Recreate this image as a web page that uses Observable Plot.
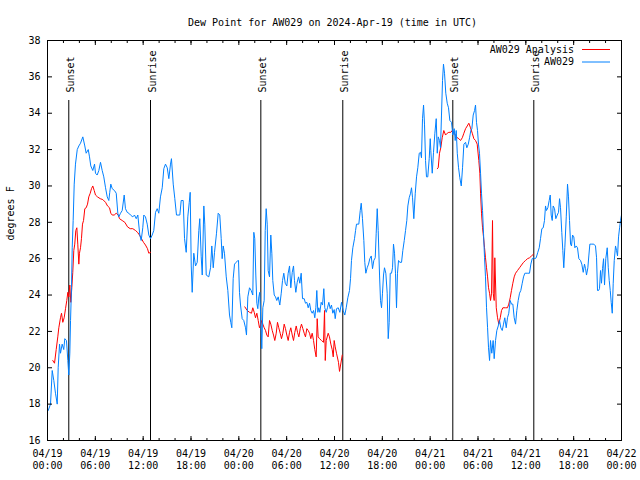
<!DOCTYPE html>
<html>
<head>
<meta charset="utf-8">
<script src="https://cdn.jsdelivr.net/npm/d3@7"></script>
<script src="https://cdn.jsdelivr.net/npm/@observablehq/plot@0.6"></script>
<style>
  html, body { margin: 0; padding: 0; background: #fff; }
  #chart svg { display: block; }
</style>
</head>
<body>
<div id="chart"></div>
<script>
// ---- Data (hours since 2024-04-19 00:00 UTC, dew point in °F) ----
const titleText = "Dew Point for AW029 on 2024-Apr-19 (time in UTC)";
const yLabelText = "degrees F";
const seriesNames = ["AW029 Analysis", "AW029"];
const seriesColors = ["#ff0000", "#0080ff"];

const blueHours = [0.09,0.38,0.59,0.79,1.00,1.22,1.34,1.51,1.63,1.84,2.04,2.17,2.38,2.55,2.67,2.80,2.89,3.01,3.10,3.22,3.35,3.51,3.73,3.93,4.14,4.43,4.68,4.85,5.11,5.27,5.43,5.68,5.90,6.02,6.23,6.44,6.65,6.86,7.06,7.28,7.49,7.69,7.81,7.94,8.12,8.40,8.62,8.82,8.94,9.16,9.37,9.62,9.78,10.00,10.20,10.41,10.70,10.91,11.13,11.33,11.58,11.75,11.95,12.08,12.29,12.51,12.71,12.92,13.13,13.33,13.55,13.76,13.96,14.17,14.39,14.59,14.80,15.02,15.22,15.43,15.55,15.77,15.97,16.18,16.60,16.77,17.02,17.19,17.40,17.60,17.78,17.90,18.03,18.15,18.35,18.57,18.78,18.98,19.10,19.28,19.41,19.61,19.73,19.91,20.23,20.45,20.61,20.79,20.95,21.20,21.41,21.61,21.79,21.91,22.04,22.20,22.42,22.62,22.83,22.99,23.12,23.29,23.46,23.67,23.87,23.96,24.08,24.21,24.42,24.62,24.84,24.96,25.13,25.34,25.55,25.75,25.88,26.00,26.13,26.26,26.38,26.51,26.63,26.76,26.88,27.01,27.18,27.31,27.43,27.56,27.68,27.85,28.01,28.14,28.26,28.44,28.60,28.76,28.94,29.14,29.32,29.48,29.64,29.82,30.02,30.19,30.36,30.52,30.70,30.86,30.98,31.15,31.32,31.49,31.65,31.82,31.99,32.20,32.36,32.53,32.70,32.87,33.03,33.20,33.37,33.53,33.66,33.78,33.91,34.03,34.16,34.33,34.50,34.66,34.78,34.96,35.12,35.29,35.46,35.62,35.79,35.96,36.09,36.25,36.47,36.67,36.88,37.09,37.29,37.47,37.67,37.88,38.01,38.13,38.30,38.51,38.64,38.76,39.05,39.23,39.35,39.51,39.68,39.80,39.93,40.10,40.27,40.43,40.61,40.77,40.93,41.11,41.23,41.36,41.48,41.65,41.77,41.90,42.02,42.15,42.27,42.44,42.61,42.74,42.86,42.99,43.15,43.28,43.40,43.53,43.65,43.78,43.90,44.03,44.19,44.41,44.57,44.75,44.91,45.07,45.20,45.37,45.54,45.66,45.79,45.95,46.13,46.29,46.45,46.63,46.79,46.91,47.04,47.17,47.29,47.42,47.54,47.70,47.88,48.01,48.08,48.26,48.42,48.59,48.76,48.89,49.01,49.17,49.30,49.42,49.55,49.67,49.80,49.96,50.14,50.30,50.47,50.68,50.84,51.02,51.14,51.27,51.40,51.56,51.72,51.90,52.06,52.23,52.44,52.60,52.78,52.94,53.10,53.23,53.40,53.57,53.69,53.81,53.94,54.06,54.19,54.32,54.44,54.57,54.69,54.82,54.94,55.07,55.20,55.32,55.45,55.57,55.73,55.90,56.03,56.20,56.36,56.54,56.70,56.86,57.04,57.20,57.36,57.54,57.70,57.86,58.04,58.20,58.37,58.54,58.71,58.87,59.04,59.21,59.37,59.55,59.71,59.88,60.00,60.25,60.46,60.63,60.80,60.93,61.13,61.30,61.50,61.68,61.84,62.01,62.18,62.34,62.47,62.59,62.76,62.93,63.06,63.18,63.31,63.43,63.60,63.76,63.94,64.10,64.23,64.35,64.51,64.64,64.76,64.89,65.07,65.23,65.35,65.48,65.61,65.73,65.86,66.02,66.15,66.32,66.48,66.65,66.86,67.02,67.20,67.36,67.49,67.61,67.78,67.90,68.03,68.28,68.53,68.74,68.87,68.99,69.12,69.24,69.37,69.49,69.62,69.75,69.87,70.03,70.21,70.34,70.46,70.59,70.71,70.84,70.96,71.09,71.25,71.38,71.50,71.63,71.76,71.88,72.00];
const blueVals = [17.65,18.0,19.85,19.3,18.6,18.0,20.0,21.3,20.8,21.3,21.0,21.6,21.5,20.4,19.6,20.8,22.6,24.4,26.6,28.1,30.1,31.2,32.0,32.2,32.35,32.7,32.2,31.8,32.0,31.6,31.1,30.85,31.2,30.7,30.6,30.85,31.3,30.85,30.5,29.9,29.4,29.2,29.65,30.1,29.85,29.75,29.6,28.5,28.3,28.5,28.65,29.5,28.75,28.55,28.5,28.4,28.3,28.4,28.2,28.4,27.3,27.0,27.7,28.4,28.3,27.9,27.3,27.1,27.3,27.55,28.55,28.75,28.5,29.4,29.9,30.95,31.2,31.0,30.4,31.2,31.5,30.1,29.3,28.4,28.4,29.2,29.2,27.1,26.35,28.3,29.1,29.65,25.6,24.15,26.3,25.6,25.8,27.55,28.2,26.1,25.1,28.9,27.9,25.1,25.0,25.5,26.7,25.5,26.35,27.4,28.5,28.4,27.1,26.0,26.7,26.3,25.0,24.25,22.9,22.5,22.2,24.9,25.7,25.8,25.9,25.9,24.15,23.45,22.7,22.6,22.2,21.8,23.9,24.4,24.25,24.0,27.45,27.1,25.1,23.55,23.25,23.9,24.15,22.6,21.05,23.3,23.7,27.55,28.75,27.9,25.35,25.0,27.3,26.3,24.8,24.0,23.9,23.7,23.9,23.45,24.1,24.8,25.2,24.65,24.5,25.2,25.6,24.4,25.25,25.6,24.8,24.15,24.7,25.0,24.65,25.2,23.8,23.8,23.55,23.6,23.3,23.55,23.15,23.0,23.15,22.75,23.3,24.25,23.05,23.3,23.05,23.6,23.45,24.35,23.3,23.05,23.3,23.6,23.25,23.45,23.0,23.2,22.7,23.25,23.3,23.05,23.6,23.15,22.9,23.3,23.85,24.25,24.9,25.9,26.6,27.1,27.55,27.9,27.9,28.65,29.05,28.2,27.0,25.8,25.2,25.5,25.7,26.0,26.15,25.45,25.9,26.05,27.4,28.75,27.55,25.1,23.7,23.3,24.1,25.1,25.5,25.2,24.1,21.6,22.5,25.2,25.2,25.5,26.8,26.3,25.2,23.3,25.2,25.9,25.8,25.8,26.45,27.0,27.55,28.1,28.9,29.35,29.6,29.9,29.35,28.2,29.6,30.5,31.0,31.8,31.85,31.55,33.7,34.45,33.4,31.4,30.5,30.5,31.5,32.6,31.95,30.7,31.85,32.9,33.7,31.8,32.7,32.5,32.1,33.9,35.8,36.7,36.2,35.1,34.55,34.3,33.6,33.5,32.8,33.15,32.5,33.05,31.8,31.0,30.45,30.0,31.0,32.3,32.4,32.1,32.3,32.65,33.05,33.15,33.9,34.15,34.45,33.5,33.05,32.3,31.8,30.7,29.6,28.65,27.4,26.05,25.0,23.3,22.2,21.1,20.4,21.5,20.8,21.5,20.5,21.5,22.05,22.3,22.6,22.2,22.05,22.4,22.75,22.2,22.75,23.0,23.7,23.5,23.5,22.75,22.4,23.15,23.7,24.1,24.25,24.65,25.0,25.2,25.2,25.2,25.2,25.7,26.0,26.05,26.0,26.05,26.35,26.6,27.1,27.65,27.7,28.1,28.9,28.65,28.8,29.2,29.5,28.4,28.1,28.9,28.75,28.2,28.4,28.55,29.3,28.8,27.45,26.45,25.5,26.6,28.3,30.1,29.4,28.1,26.8,26.7,27.3,27.2,26.6,26.7,26.6,26.0,25.9,25.7,25.25,25.7,25.45,25.1,25.5,26.15,26.8,26.8,26.8,26.7,26.05,24.25,24.25,24.35,25.35,24.65,25.45,26.0,24.55,26.0,26.6,25.5,24.8,24.25,23.6,23.0,24.65,25.9,26.7,26.45,26.15,27.2,27.7,28.1,28.4];

// null entries mark gaps in the analysis series
const redHours = [0.66,0.88,1.09,1.29,1.42,1.63,1.76,1.92,2.09,2.26,2.42,2.55,2.67,2.80,2.92,3.05,3.17,3.30,3.42,3.55,3.68,3.80,3.93,4.01,4.14,4.26,4.39,4.52,4.68,4.85,5.02,5.18,5.36,5.52,5.68,5.86,6.02,6.27,6.61,6.94,7.28,7.53,7.78,7.94,8.12,8.37,8.62,8.87,9.03,9.37,9.70,10.04,10.37,10.70,11.04,11.29,11.54,11.79,12.04,12.29,12.54,12.71,12.92,
  18.0,
  24.75,25.05,25.34,25.59,25.75,25.93,26.09,26.26,26.43,26.59,26.76,26.88,27.01,27.18,27.35,27.51,27.68,27.85,28.01,28.19,28.35,28.51,28.69,28.85,29.01,29.19,29.35,29.52,29.69,29.85,30.02,30.19,30.36,30.52,30.70,30.86,31.02,31.20,31.36,31.53,31.70,31.86,32.03,32.20,32.36,32.53,32.70,32.87,33.03,33.20,33.37,33.53,33.70,33.83,33.95,34.12,34.37,34.62,34.75,34.84,34.96,35.21,35.37,35.54,35.71,35.84,35.96,36.09,36.25,36.50,36.63,36.97,
  43.0,
  48.89,49.01,49.17,49.33,49.51,49.71,49.93,50.14,50.34,50.59,50.77,50.97,51.18,51.40,51.60,51.81,52.03,52.23,52.44,52.65,52.85,53.06,53.28,53.48,53.69,53.90,54.10,54.23,54.32,54.44,54.57,54.69,54.82,54.94,55.07,55.20,55.32,55.45,55.57,55.70,55.82,55.91,56.03,56.11,56.29,56.45,56.61,56.79,56.95,57.12,57.45,57.70,57.86,58.04,58.20,58.37,58.54,58.71,58.96,59.21,59.46,59.71,59.96,60.21,60.46,60.71,60.96];
const redVals = [20.4,20.25,21.0,21.7,22.2,22.75,23.0,22.5,22.75,23.25,23.7,24.15,23.9,24.55,23.6,24.4,25.25,26.45,26.8,27.55,27.7,26.8,25.7,26.3,26.6,27.1,27.9,28.1,28.75,28.8,29.0,29.4,29.6,29.85,30.0,29.75,29.5,29.4,29.3,29.25,29.1,28.9,28.8,28.5,28.4,28.4,28.5,28.4,28.2,28.1,28.0,27.75,27.65,27.65,27.55,27.45,27.3,27.1,26.9,26.75,26.55,26.3,26.35,
  null,
  23.35,23.15,23.05,23.0,23.3,23.05,22.75,23.0,22.6,22.2,22.4,22.6,22.4,22.2,22.05,21.8,21.7,22.6,22.4,22.05,21.8,21.5,21.9,22.5,22.2,21.9,21.6,21.9,22.4,22.15,21.8,21.5,21.95,22.2,21.8,21.5,21.95,22.3,21.95,21.7,22.15,22.4,22.15,21.9,21.7,22.15,22.05,21.9,21.6,21.9,21.5,21.0,20.6,22.7,21.7,21.6,21.5,21.4,23.15,20.4,21.5,21.9,21.7,21.3,21.0,20.6,21.5,21.15,20.8,20.3,19.8,20.7,
  null,
  30.95,31.0,31.8,32.1,32.65,33.05,32.8,32.9,32.95,32.95,33.05,32.9,32.8,32.65,32.6,32.5,32.65,32.9,33.15,33.3,33.45,33.2,32.9,32.6,32.5,32.3,31.4,30.7,29.6,28.5,27.7,27.2,26.6,26.05,25.5,25.0,24.4,24.1,23.7,24.1,28.1,24.1,23.7,26.05,23.3,22.75,22.4,22.75,23.15,23.3,23.3,23.3,23.5,23.85,24.25,24.65,25.0,25.2,25.35,25.5,25.65,25.8,25.9,26.0,26.05,26.15,26.25];

const sunLabels = ["Sunset", "Sunrise", "Sunset", "Sunrise", "Sunset", "Sunrise"];
const sunHours  = [2.67, 12.92, 26.76, 37.04, 50.84, 61.0];

const yTicks = [16, 18, 20, 22, 24, 26, 28, 30, 32, 34, 36, 38];
const xStartUTC = [2024, 3, 19];
const xDays = 3;

// ---- Build ----
const T0 = Date.UTC(...xStartUTC);
const toDate = h => new Date(T0 + h * 3600000);
const xEnd = new Date(T0 + xDays * 86400000);
const blue = blueHours.map((h, i) => ({t: toDate(h), v: blueVals[i]}));
const red = redHours.map((h, i) => ({t: toDate(h), v: redVals[i]}));
const sun = sunHours.map((h, i) => ({t: toDate(h), label: sunLabels[i]}));
const xMajor = d3.utcHour.every(6).range(new Date(T0), new Date(+xEnd + 1));
const xMinor = d3.utcHour.every(2).range(new Date(T0), new Date(+xEnd + 1));
const fmtDate = d3.utcFormat("%m/%d"), fmtTime = d3.utcFormat("%H:%M");

const font = "'DejaVu Sans Mono', 'Liberation Mono', monospace";

const chart = Plot.plot({
  width: 640,
  height: 480,
  marginLeft: 47,
  marginRight: 19,
  marginTop: 40,
  marginBottom: 40,
  style: {fontFamily: font, fontSize: "10px", color: "#000", background: "#fff"},
  x: {type: "utc", domain: [new Date(T0), xEnd]},
  y: {domain: [16, 38]},
  marks: [
    Plot.ruleX(sun, {x: "t", insetTop: 60, stroke: "#000", strokeWidth: 1}),
    Plot.text(sun, {x: "t", text: "label", frameAnchor: "top", dy: 52, dx: -2, rotate: -90, textAnchor: "start", fill: "#000"}),
    Plot.line(red, {x: "t", y: "v", stroke: seriesColors[0], strokeWidth: 1}),
    Plot.line(blue, {x: "t", y: "v", stroke: seriesColors[1], strokeWidth: 1}),
    Plot.axisY({anchor: "left", ticks: yTicks, tickSize: -5, tickPadding: 12, label: null, stroke: "#000"}),
    Plot.axisY({anchor: "right", ticks: yTicks, tickSize: -5, tickFormat: () => "", label: null}),
    Plot.axisX({anchor: "bottom", ticks: xMajor, tickSize: -4, tickPadding: 11, lineHeight: 1.27,
      tickFormat: d => fmtDate(d) + "\n" + fmtTime(d), label: null}),
    Plot.axisX({anchor: "bottom", ticks: xMinor, tickSize: -2, tickFormat: () => "", label: null}),
    Plot.axisX({anchor: "top", ticks: xMajor, tickSize: -4, tickFormat: () => "", label: null}),
    Plot.axisX({anchor: "top", ticks: xMinor, tickSize: -2, tickFormat: () => "", label: null}),
    Plot.frame({stroke: "#000", strokeWidth: 1}),
    Plot.text([yLabelText], {frameAnchor: "left", dx: -37, rotate: -90, fill: "#000"}),
    Plot.text([titleText], {frameAnchor: "top", dy: -22, dx: -2, fill: "#000"})
  ]
});

// legend (top-right, inside the frame)
const svg = d3.select(chart);
const lg = svg.append("g").attr("font-family", font).attr("font-size", 10);
seriesNames.forEach((name, i) => {
  const yy = 49.5 + i * 12.5;
  lg.append("text").attr("x", 574).attr("y", yy).attr("dy", "0.32em")
    .attr("text-anchor", "end").attr("fill", "#000").text(name);
  lg.append("line").attr("x1", 582).attr("x2", 610).attr("y1", yy).attr("y2", yy)
    .attr("stroke", seriesColors[i]).attr("stroke-width", 1);
});

document.getElementById("chart").appendChild(chart);
</script>
</body>
</html>
